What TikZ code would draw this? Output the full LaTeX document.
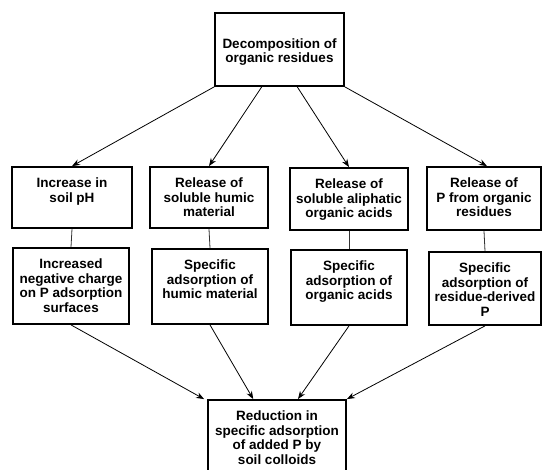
\documentclass[tikz,border=0pt]{standalone}
\usepackage{fontspec}
\setmainfont{Liberation Sans}
\usetikzlibrary{arrows.meta,calc}
\tikzset{
  box/.style={draw=black,line width=1.8pt,fill=white,inner sep=0pt},
  lbl/.style={font=\fontsize{13.5}{14.6}\selectfont\bfseries,align=center,inner sep=0pt,anchor=north},
  arr/.style={line width=0.8pt,-{Stealth[length=8pt,width=6pt]}},
  link/.style={line width=0.8pt,draw=black!80}
}
\newcommand{\mybox}[6]{%
  \node[box,minimum width=#4-#2,minimum height=#5-#3] (#1) at ({(#2+#4)/2},{(#3+#5)/2}) {};
  \node[lbl] (#1t) at ($(#1.north)+(0,11.5)$) {#6};
}
\begin{document}
\begin{tikzpicture}[x=1pt,y=-1pt]
\useasboundingbox (0,0) rectangle (544,470);
\clip (0,0) rectangle (544,470);
% top box
\node[box,minimum width=129,minimum height=73] (top) at (279.5,49.5) {};
\node[lbl,anchor=center] (topt) at (279.5,52) {Decomposition of\\organic residues};
% row 1
\mybox{a1}{12}{167}{132}{228}{Increase in\\soil pH}
\mybox{a2}{150}{167}{268}{228}{Release of\\soluble humic\\material}
\mybox{a3}{290}{168}{408}{230}{Release of\\soluble aliphatic\\organic acids}
\mybox{a4}{427}{167}{541}{230}{Release of\\P from organic\\residues}
% row 2
\mybox{b1}{13}{248}{129}{324}{Increased\\negative charge\\on P adsorption\\surfaces}
\mybox{b2}{152}{249}{268}{324}{Specific\\adsorption of\\humic material}
\mybox{b3}{291}{250}{407}{325}{Specific\\adsorption of\\organic acids}
\mybox{b4}{429}{252}{541}{325}{Specific\\adsorption of\\residue-derived\\P}
% bottom box
\mybox{c}{208}{400}{346}{482}{Reduction in\\specific adsorption\\of added P by\\soil colloids}
% arrows from top
\draw[arr] (top.south west) -- (a1.north);
\draw[arr] ($(top.south west)!0.364!(top.south east)$) -- (a2.north);
\draw[arr] ($(top.south west)!0.636!(top.south east)$) -- (a3.north);
\draw[arr] (top.south east) -- ($(a4.north)+(3,0)$);
% links
\draw[link] (a1.south) -- (b1.north);
\draw[link] (a2.south) -- (b2.north);
\draw[link] (a3.south) -- (b3.north);
\draw[link] (a4.south) -- (b4.north);
% arrows to bottom
\draw[arr] (b1.south) -- ($(c.north west)+(-3,0)$);
\draw[arr] (b2.south) -- ($(c.north west)!0.33!(c.north east)$);
\draw[arr] (b3.south) -- ($(c.north west)!0.65!(c.north east)$);
\draw[arr] (b4.south) -- (c.north east);
\end{tikzpicture}
\end{document}
